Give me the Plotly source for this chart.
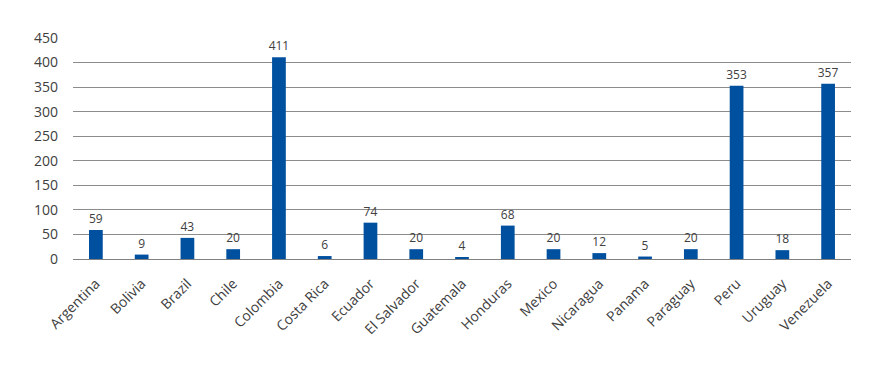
import plotly.graph_objects as go

countries = ["Argentina", "Bolivia", "Brazil", "Chile", "Colombia", "Costa Rica", "Ecuador",
             "El Salvador", "Guatemala", "Honduras", "Mexico", "Nicaragua", "Panama",
             "Paraguay", "Peru", "Uruguay", "Venezuela"]
values = [59, 9, 43, 20, 411, 6, 74, 20, 4, 68, 20, 12, 5, 20, 353, 18, 357]
y_ticks = [0, 50, 100, 150, 200, 250, 300, 350, 400, 450]

fig = go.Figure(go.Bar(
    x=countries, y=values,
    marker=dict(color="#0050A0", line=dict(width=0)),
    text=[str(v) for v in values], textposition="outside",
    constraintext="none",
    textfont=dict(size=12, color="#404040", family="Open Sans"),
    cliponaxis=False,
))

fig.update_layout(
    width=862, height=362,
    margin=dict(l=65, r=19, t=30, b=111),
    paper_bgcolor="white", plot_bgcolor="white",
    bargap=0.7,
    showlegend=False,
    font=dict(family="Open Sans", color="#404040"),
    xaxis=dict(tickangle=-45, tickfont=dict(size=14, color="#404040"),
               showline=True, linecolor="#808080", linewidth=1, ticks="",
               showgrid=False, automargin=False, ticklabelstandoff=10),
    yaxis=dict(range=[0, 450], tickvals=y_ticks, tickfont=dict(size=14, color="#404040"),
               showgrid=True, gridcolor="#8c8c8c", gridwidth=1, zeroline=False,
               ticks="", automargin=False, ticklabelstandoff=14),
)

fig.write_html("out.html")
